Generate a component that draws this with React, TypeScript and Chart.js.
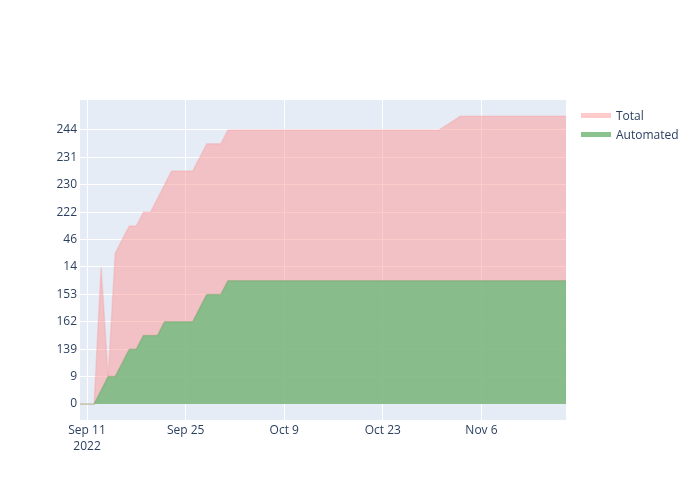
import { useEffect, useRef } from 'react';
import { Chart, registerables, type ChartConfiguration, type Plugin } from 'chart.js';

Chart.register(...registerables);

// y axis is categorical: labels in order of first appearance
const categories = [
  '0', '4', '9', '75', '139', '150', '162', '158', '153', '161', '14',
  '30', '46', '134', '222', '226', '230', '229', '231', '238', '244', '246',
];

const totalDates = [
  '2022-09-10', '2022-09-12', '2022-09-13', '2022-09-14', '2022-09-15', '2022-09-16',
  '2022-09-17', '2022-09-18', '2022-09-19', '2022-09-20', '2022-09-21', '2022-09-22',
  '2022-09-23', '2022-09-26', '2022-09-27', '2022-09-28', '2022-09-30', '2022-10-01',
  '2022-10-31', '2022-11-03', '2022-11-18',
];
const totalValues = [
  '0', '0', '14', '9', '30', '46',
  '134', '134', '222', '222', '226', '230',
  '229', '229', '231', '238', '238', '244',
  '244', '246', '246',
];

const automatedDates = [
  '2022-09-10', '2022-09-12', '2022-09-13', '2022-09-14', '2022-09-15', '2022-09-16',
  '2022-09-17', '2022-09-18', '2022-09-19', '2022-09-21', '2022-09-22', '2022-09-26',
  '2022-09-27', '2022-09-28', '2022-09-30', '2022-10-01', '2022-11-18',
];
const automatedValues = [
  '0', '0', '4', '9', '9', '75',
  '139', '139', '150', '150', '162', '162',
  '158', '153', '153', '161', '161',
];

const xTickDates = ['2022-09-11', '2022-09-25', '2022-10-09', '2022-10-23', '2022-11-06'];
const xTickLabels = ['Sep 11', 'Sep 25', 'Oct 9', 'Oct 23', 'Nov 6'];
const yearLabel = '2022';

const legendItems = [
  { label: 'Total', color: 'rgba(255,150,150,0.5)' },
  { label: 'Automated', color: 'rgba(90,170,95,0.7)' },
];

const BASE = Date.parse('2022-09-11');
const day = (d: string) => (Date.parse(d) - BASE) / 86400000;
const toPoints = (dates: string[], values: string[]) =>
  dates.map((d, i) => ({ x: day(d), y: categories.indexOf(values[i]) }));

const FONT = '"Open Sans", sans-serif';
const INK = '#2a3f5f';

const plotBg: Plugin<'line'> = {
  id: 'plotBg',
  beforeDraw(chart) {
    const { ctx, chartArea: a } = chart;
    ctx.save();
    ctx.fillStyle = '#e5ecf6';
    ctx.fillRect(a.left, a.top, a.right - a.left, a.bottom - a.top);
    ctx.restore();
  },
};

function AreaChart() {
  const canvasRef = useRef<HTMLCanvasElement>(null);
  const chartRef = useRef<Chart | null>(null);

  useEffect(() => {
    if (!canvasRef.current) return;
    const allDates = [...totalDates, ...automatedDates].map(day);

    const config: ChartConfiguration<'line'> = {
      type: 'line',
      data: {
        datasets: [
          {
            label: 'Total',
            data: toPoints(totalDates, totalValues),
            fill: 'origin',
            backgroundColor: 'rgba(255,150,150,0.5)',
            borderColor: 'rgba(250,150,150,0.3)',
            borderWidth: 1.5,
            pointRadius: 0,
            tension: 0,
            order: 1,
          },
          {
            label: 'Automated',
            data: toPoints(automatedDates, automatedValues),
            fill: 'origin',
            backgroundColor: 'rgba(100,185,118,0.75)',
            borderColor: 'rgba(110,160,100,0.4)',
            borderWidth: 1.5,
            pointRadius: 0,
            tension: 0,
            order: 0,
          },
        ],
      },
      options: {
        responsive: false,
        animation: false,
        layout: { padding: { top: 100, right: 134, left: 0, bottom: 0 } },
        plugins: {
          legend: { display: false },
          tooltip: { enabled: false },
          filler: { drawTime: 'beforeDatasetsDraw' },
        },
        scales: {
          x: {
            type: 'linear',
            min: Math.min(...allDates),
            max: Math.max(...allDates),
            afterFit: (s) => { s.height = 80; },
            afterBuildTicks: (s) => { s.ticks = xTickDates.map((d) => ({ value: day(d) })); },
            grid: { color: '#ffffff', lineWidth: 1, drawTicks: false },
            border: { display: false },
            ticks: {
              padding: 2,
              maxRotation: 0,
              autoSkip: false,
              color: INK,
              font: { family: FONT, size: 12, lineHeight: 1.35 },
              callback: (v) => {
                const i = xTickDates.findIndex((d) => day(d) === Number(v));
                if (i < 0) return '';
                return i === 0 ? [xTickLabels[i], yearLabel] : xTickLabels[i];
              },
            },
          },
          y: {
            type: 'linear',
            min: -1.17,
            max: 22.19,
            afterFit: (s) => { s.width = 80; },
            afterBuildTicks: (s) => {
              s.ticks = categories.map((_, i) => ({ value: i })).filter((t) => t.value % 2 === 0);
            },
            grid: { color: '#ffffff', lineWidth: 1, drawTicks: false },
            border: { display: false },
            ticks: {
              padding: 3,
              autoSkip: false,
              color: INK,
              font: { family: FONT, size: 12 },
              callback: (v) => categories[Number(v)] ?? '',
            },
          },
        },
      },
      plugins: [plotBg],
    };

    chartRef.current = new Chart(canvasRef.current, config);
    return () => { chartRef.current?.destroy(); chartRef.current = null; };
  }, []);

  return (
    <div style={{ position: 'fixed', left: 0, top: 0, width: 700, height: 500, background: '#fff' }}>
      <canvas ref={canvasRef} width={700} height={500} />
      {legendItems.map((it, i) => (
        <div
          key={it.label}
          style={{
            position: 'absolute',
            left: 581,
            top: 106 + i * 19,
            height: 18,
            display: 'flex',
            alignItems: 'center',
            fontFamily: FONT,
            fontSize: 12,
            color: INK,
          }}
        >
          <span style={{ display: 'inline-block', width: 30, height: 5, background: it.color, marginRight: 5 }} />
          {it.label}
        </div>
      ))}
    </div>
  );
}

export default function App() {
  return <AreaChart />;
}
